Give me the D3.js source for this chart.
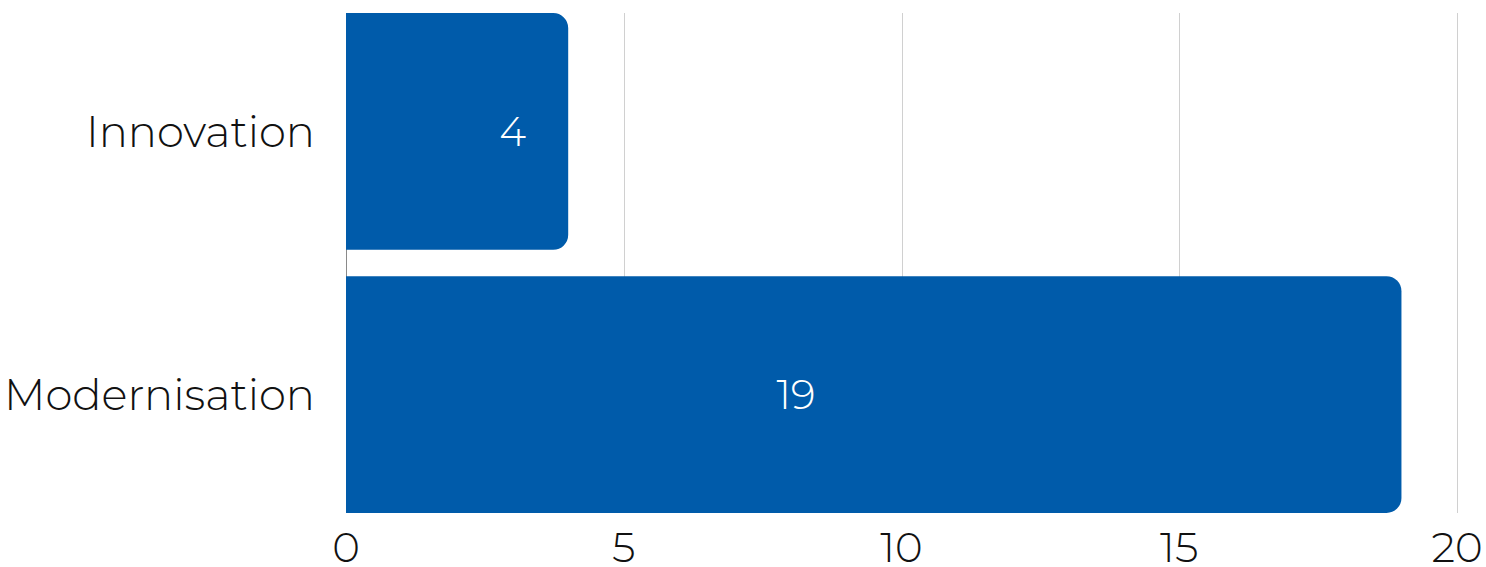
<!DOCTYPE html>
<html>
<head>
<meta charset="utf-8">
<script src="https://cdn.jsdelivr.net/npm/d3@7"></script>
<style>
  body { margin: 0; background: #fff; }
  svg { display: block; font-family: "Montserrat", "DejaVu Sans", sans-serif; }
  .grid line { stroke: #d0d0d0; stroke-width: 1; }
  .zero { stroke: #8a8a8a; stroke-width: 1; }
  .cat { font-size: 43.3px; font-weight: 300; fill: #111; }
  .tick-label { font-size: 42px; font-weight: 300; fill: #111; }
  .val { font-size: 41px; font-weight: 300; fill: #fff; }
</style>
</head>
<body>
<div id="chart"></div>
<script>
// chart data
const categories = ["Innovation", "Modernisation"];
const values = [4, 19];
const labelAt = [3, 8.1];   // where the value label sits, in axis units
const ticks = [0, 5, 10, 15, 20];

const width = 1486, height = 567;
const margin = { top: 13, right: 29, bottom: 54, left: 346 };

const svg = d3.select("#chart").append("svg")
    .attr("width", width)
    .attr("height", height);

const x = d3.scaleLinear()
    .domain([0, 20])
    .range([margin.left, width - margin.right]);

const y = d3.scaleBand()
    .domain(categories)
    .range([margin.top, height - margin.bottom])
    .paddingInner(0.1)
    .paddingOuter(0);

// gridlines
svg.append("g").attr("class", "grid")
    .selectAll("line")
    .data(ticks.slice(1))
    .enter().append("line")
    .attr("x1", d => Math.round(x(d)) + 0.5)
    .attr("x2", d => Math.round(x(d)) + 0.5)
    .attr("y1", margin.top)
    .attr("y2", height - margin.bottom);

svg.append("line").attr("class", "zero")
    .attr("x1", x(0) + 0.5).attr("x2", x(0) + 0.5)
    .attr("y1", margin.top).attr("y2", height - margin.bottom);

// bar path with rounded right corners only
function barPath(x0, y0, w, h, r) {
    r = Math.min(r, w, h / 2);
    return `M${x0},${y0}H${x0 + w - r}A${r},${r} 0 0 1 ${x0 + w},${y0 + r}` +
           `V${y0 + h - r}A${r},${r} 0 0 1 ${x0 + w - r},${y0 + h}H${x0}Z`;
}

svg.append("g")
    .selectAll("path")
    .data(categories)
    .enter().append("path")
    .attr("fill", "#005BAA")
    .attr("d", (d, i) => barPath(x(0), y(d), x(values[i]) - x(0), y.bandwidth(), 15));

// value labels
svg.append("g")
    .selectAll("text")
    .data(categories)
    .enter().append("text")
    .attr("class", "val")
    .attr("x", (d, i) => x(labelAt[i]))
    .attr("y", d => y(d) + y.bandwidth() / 2)
    .attr("dy", "0.35em")
    .attr("text-anchor", "middle")
    .text((d, i) => values[i]);

// category labels
svg.append("g")
    .selectAll("text")
    .data(categories)
    .enter().append("text")
    .attr("class", "cat")
    .attr("x", margin.left - 31)
    .attr("y", d => y(d) + y.bandwidth() / 2)
    .attr("dy", "0.35em")
    .attr("text-anchor", "end")
    .text(d => d);

// x axis labels
svg.append("g")
    .selectAll("text")
    .data(ticks)
    .enter().append("text")
    .attr("class", "tick-label")
    .attr("x", d => x(d))
    .attr("y", height - 5)
    .attr("text-anchor", "middle")
    .text(d => d);
</script>
</body>
</html>
